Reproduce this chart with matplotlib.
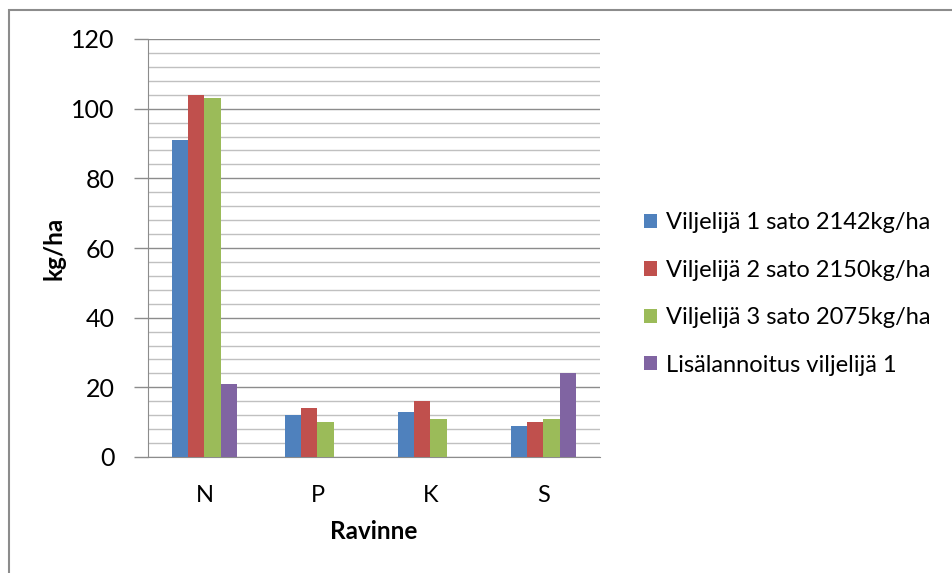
import matplotlib
matplotlib.use("Agg")
import matplotlib.pyplot as plt
import numpy as np
from matplotlib.patches import Rectangle
from matplotlib.ticker import MultipleLocator

categories = ["N", "P", "K", "S"]
series_names = ["Viljelijä 1 sato 2142kg/ha", "Viljelijä 2 sato 2150kg/ha",
                "Viljelijä 3 sato 2075kg/ha", "Lisälannoitus viljelijä 1"]
viljelija1 = [91, 12, 13, 9]
viljelija2 = [104, 14, 16, 10]
viljelija3 = [103, 10, 11, 11]
lisalannoitus = [21, np.nan, np.nan, 24]
colors = ["#4F81BD", "#C0504D", "#9BBB59", "#8064A2"]

plt.rcParams['font.family'] = ['Lato', 'DejaVu Sans']

fig = plt.figure(figsize=(9.53, 5.73), dpi=100)
ax = fig.add_axes([148/953, 1-457/573, (600-148)/953, (457-39)/573])

x = np.arange(len(categories))
w = 0.142
data = [viljelija1, viljelija2, viljelija3, lisalannoitus]
for i, (vals, name, c) in enumerate(zip(data, series_names, colors)):
    ax.bar(x + (i - 1.5) * w, vals, width=w, color=c, label=name, zorder=3)

ax.set_xlim(-0.5, 3.5)
ax.set_ylim(0, 120)
ax.yaxis.set_major_locator(MultipleLocator(20))
ax.yaxis.set_minor_locator(MultipleLocator(4))
ax.grid(axis='y', which='major', color='#8c8c8c', linewidth=1.0, zorder=0)
ax.grid(axis='y', which='minor', color='#c0c0c0', linewidth=1.0, zorder=0)
ax.set_axisbelow(True)

for s in ['top', 'right']:
    ax.spines[s].set_visible(False)
ax.spines['left'].set_color('#8c8c8c')
ax.spines['bottom'].set_color('#8c8c8c')

ax.set_xticks(x)
ax.set_xticklabels(categories)
ax.tick_params(axis='x', length=0, pad=20, labelsize=17, colors='#000000')
ax.tick_params(axis='y', which='major', length=10, width=1, color='#8c8c8c', pad=14, labelsize=18)
ax.tick_params(axis='y', which='minor', length=0)

ax.set_xlabel("Ravinne", fontsize=17.5, fontweight='bold', labelpad=10)
ax.set_ylabel("kg/ha", fontsize=17.5, fontweight='bold', labelpad=4)

leg = ax.legend(loc='center left', bbox_to_anchor=((644-148)/452, (457-294)/418), frameon=False,
                fontsize=17, handlelength=0.55, handleheight=0.55, handletextpad=0.4,
                labelspacing=1.12, borderaxespad=0, borderpad=0)

fig.patches.append(Rectangle((9/953, -0.1), 2.0, (1-10/573)+0.1, transform=fig.transFigure,
                             fill=False, edgecolor='#8c8c8c', linewidth=1.5))

fig.savefig("out.png", dpi=100)
